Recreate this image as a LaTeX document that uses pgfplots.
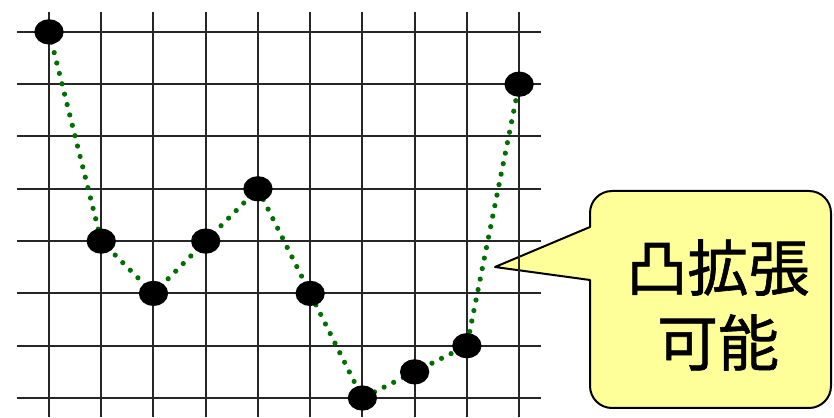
\documentclass[border=0pt]{standalone}
\usepackage{pgfplots}
\pgfplotsset{compat=1.18}
\usepackage{fontspec}
\newfontfamily\cjk{Noto Sans CJK JP}[FakeBold=1]
\definecolor{dotgreen}{RGB}{0,110,0}
\definecolor{callyellow}{RGB}{255,255,153}
\begin{document}
\begin{tikzpicture}
\path[use as bounding box] (0,0) rectangle (417pt,208.5pt);
\begin{scope}[x=0.5pt,y=-0.5pt,yshift=208.5pt]
\draw[fill=callyellow, line width=1pt, line join=round] (495,267) -- (590,227)
  {[rounded corners=11pt] -- (590,191) -- (831,191) -- (831,408) -- (590,408)} -- (590,280) -- cycle;
\node[align=center, inner sep=0pt, font=\cjk\fontsize{30.5pt}{37.5pt}\selectfont] at (718,305) {凸拡張\\可能};
\end{scope}
\begin{axis}[at={(8.5pt,0pt)}, anchor=south west, scale only axis,
  width=261.75pt, height=202.5pt,
  xmin=-0.613, xmax=9.41, ymin=-0.363, ymax=7.38,
  axis line style={draw=none}, tick style={draw=none}, major tick length=0pt,
  xtick={0,...,9}, ytick={0,...,7}, xticklabels={}, yticklabels={},
  grid=major, grid style={line width=1pt, color=black!85},
  clip=false]
\addplot[dotgreen, line width=2.6pt, line cap=round, dash pattern=on 0pt off 5.35pt,
  mark=*, mark size=5pt, mark options={solid, black, fill=black, xscale=1.2}]
  coordinates {(0,7) (1,3) (2,2) (3,3) (4,4) (5,2) (6,0) (7,0.5) (8,1) (9,6)};
\end{axis}
\end{tikzpicture}
\end{document}
